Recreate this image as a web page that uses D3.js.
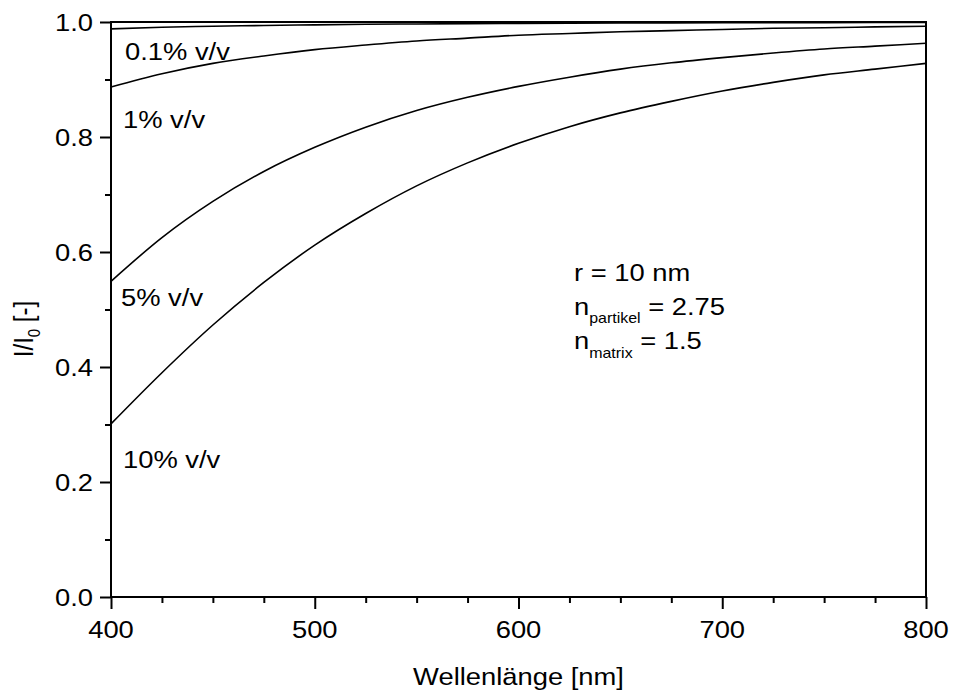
<!DOCTYPE html>
<html>
<head>
<meta charset="utf-8">
<script src="https://cdn.jsdelivr.net/npm/d3@7"></script>
<style>
  body { margin: 0; background: #fff; }
  svg { font-family: Arial, "Liberation Sans", sans-serif; }
</style>
</head>
<body>
<svg id="chart" width="953" height="693"></svg>
<script>
// wavelengths in nm
var wavelength = [400, 425, 450, 475, 500, 525, 550, 575, 600, 625, 650, 675, 700, 725, 750, 775, 800];

// I/I0 for each volume fraction
var t01 = [0.988, 0.991, 0.9925, 0.994, 0.995, 0.996, 0.9966, 0.9972, 0.9976, 0.998, 0.9983, 0.9985, 0.9987, 0.9989, 0.999, 0.9991, 0.9992];
var t1 = [0.887, 0.910, 0.928, 0.941, 0.952, 0.960, 0.967, 0.972, 0.977, 0.980, 0.983, 0.985, 0.987, 0.989, 0.990, 0.9915, 0.9925];
var t5 = [0.549, 0.625, 0.688, 0.740, 0.782, 0.817, 0.846, 0.869, 0.888, 0.904, 0.918, 0.929, 0.938, 0.946, 0.953, 0.958, 0.963];
var t10 = [0.301, 0.390, 0.473, 0.547, 0.612, 0.667, 0.715, 0.755, 0.789, 0.818, 0.842, 0.862, 0.880, 0.895, 0.908, 0.918, 0.928];

var seriesLabels = ["0.1% v/v", "1% v/v", "5% v/v", "10% v/v"];
var xTicks = [400, 500, 600, 700, 800];
var yTicks = [0.0, 0.2, 0.4, 0.6, 0.8, 1.0];

var svg = d3.select("#chart");
var pl = 111, pr = 926, pt = 22, pb = 597;
var sx = 1.14; // the original text is a bit wider than plain Arial
var fs = 24;

var x = d3.scaleLinear().domain([400, 800]).range([pl, pr]);
var y = d3.scaleLinear().domain([0, 1]).range([pb, pt]);

// text helper: a horizontally widened label placed at (px, py)
function label(px, py, anchor, rot) {
  var g = svg.append("g")
      .attr("transform", "translate(" + px + "," + py + ") scale(" + sx + ",1)" + (rot ? " rotate(" + rot + ")" : ""));
  return g.append("text")
      .attr("text-anchor", anchor || "start")
      .attr("font-size", fs);
}

// minor ticks
var xMinor = svg.append("g")
    .attr("transform", "translate(0," + pb + ")")
    .call(d3.axisBottom(x).tickValues(d3.range(425, 800, 25).filter(function(v) { return v % 100 != 0; }))
      .tickSize(6).tickFormat(""));
var yMinor = svg.append("g")
    .attr("transform", "translate(" + pl + ",0)")
    .call(d3.axisLeft(y).tickValues([0.1, 0.3, 0.5, 0.7, 0.9]).tickSize(6).tickFormat(""));

// major ticks
var xAxis = svg.append("g")
    .attr("transform", "translate(0," + pb + ")")
    .call(d3.axisBottom(x).tickValues(xTicks).tickSize(12).tickFormat(""));
var yAxis = svg.append("g")
    .attr("transform", "translate(" + pl + ",0)")
    .call(d3.axisLeft(y).tickValues(yTicks).tickSize(11).tickFormat(""));

[xMinor, yMinor, xAxis, yAxis].forEach(function(g) {
  g.selectAll("path.domain").remove();
  g.selectAll("line").attr("stroke", "#000").attr("stroke-width", 2);
});

// tick labels
xTicks.forEach(function(v) {
  label(x(v), 638, "middle").text(d3.format("d")(v));
});
yTicks.forEach(function(v) {
  label(93, y(v) + 8.5, "end").text(d3.format(".1f")(v));
});

// frame
svg.append("rect")
    .attr("x", pl).attr("y", pt)
    .attr("width", pr - pl).attr("height", pb - pt)
    .attr("fill", "none").attr("stroke", "#000").attr("stroke-width", 2);

// curves
var line = d3.line()
    .x(function(d, i) { return x(wavelength[i]); })
    .y(function(d) { return y(d); })
    .curve(d3.curveMonotoneX);

[t01, t1, t5, t10].forEach(function(s) {
  svg.append("path")
      .attr("d", line(s))
      .attr("fill", "none")
      .attr("stroke", "#000")
      .attr("stroke-width", 1.6);
});

// curve labels
var labelPos = [[125, 60], [123, 128], [121, 306], [123, 468]];
seriesLabels.forEach(function(t, i) {
  label(labelPos[i][0], labelPos[i][1]).text(t);
});

// axis titles
label((pl + pr) / 2, 685, "middle").text("Wellenlänge [nm]");

var yt = label(33, 329, "middle", -90);
yt.append("tspan").text("I/I");
yt.append("tspan").attr("font-size", 15).attr("dy", 6).text("0");
yt.append("tspan").attr("dy", -6).text(" [-]");

// parameter annotation
label(574, 281).text("r = 10 nm");
var a2 = label(574, 315);
a2.append("tspan").text("n");
a2.append("tspan").attr("font-size", 14).attr("dy", 8).text("partikel");
a2.append("tspan").attr("dy", -8).text(" = 2.75");
var a3 = label(574, 349);
a3.append("tspan").text("n");
a3.append("tspan").attr("font-size", 14).attr("dy", 9).text("matrix");
a3.append("tspan").attr("dy", -9).text(" = 1.5");
</script>
</body>
</html>
